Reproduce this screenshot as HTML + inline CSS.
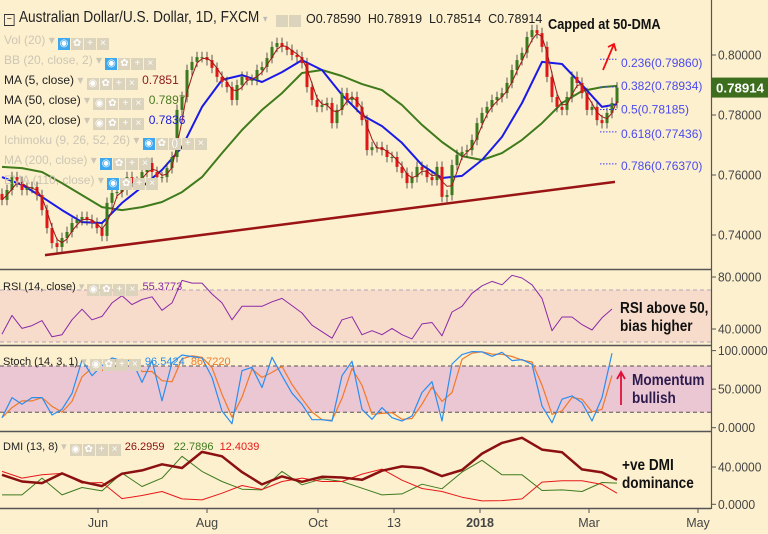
<!DOCTYPE html>
<html><head><meta charset="utf-8">
<style>
body{margin:0;background:#fdf0cf;}
#wrap{position:relative;width:768px;height:534px;overflow:hidden;background:#fdf0cf;font-family:"Liberation Sans",sans-serif;}
svg{position:absolute;left:0;top:0;}
.lg{position:absolute;left:4px;font-size:12px;white-space:nowrap;color:#222;height:14px;line-height:14px;}
.fd{color:#cdc6b4;}
.ic{display:inline-block;width:12px;height:12px;background:#dcd3bd;margin-right:1px;vertical-align:-2px;color:#fff;font-size:10px;text-align:center;line-height:12px;}
.ic.b{background:#3ea8ef;}
.sm{font-size:11px;}
.ann{position:absolute;font-weight:bold;font-size:15px;color:#111;transform-origin:0 0;transform:scaleX(0.85);line-height:18px;white-space:nowrap;}
</style></head><body>
<div id="wrap">
<svg id="svg" width="768" height="534"></svg>

<div class="lg" style="top:11px;font-size:15.5px;transform-origin:0 0;transform:scaleX(0.88);"><span style="display:inline-block;width:10px;height:10px;border:1px solid #333;margin-right:5px;vertical-align:0px;font-size:10px;line-height:9px;text-align:center">−</span>Australian Dollar/U.S. Dollar, 1D, FXCM <span style="color:#bbb;font-size:10px">▾</span></div>
<div class="lg" style="top:12px;left:306px;font-size:12.5px;">O0.78590&nbsp;&nbsp;H0.78919&nbsp;&nbsp;L0.78514&nbsp;&nbsp;C0.78914</div>
<div class="lg" style="top:14px;left:276px"><span class="ic"></span><span class="ic"></span></div>

<div class="lg fd" style="top:33px">Vol (20) ▾ <span class="ic b">◉</span><span class="ic">✿</span><span class="ic">+</span><span class="ic">×</span></div>
<div class="lg fd" style="top:53px">BB (20, close, 2) ▾ <span class="ic b">◉</span><span class="ic">✿</span><span class="ic">+</span><span class="ic">×</span></div>
<div class="lg" style="top:73px">MA (5, close) <span class="fd">▾</span> <span class="ic">◉</span><span class="ic">✿</span><span class="ic">+</span><span class="ic">×</span> <span style="color:#8b1a1a">0.7851</span></div>
<div class="lg" style="top:93px">MA (50, close) <span class="fd">▾</span> <span class="ic">◉</span><span class="ic">✿</span><span class="ic">+</span><span class="ic">×</span> <span style="color:#4a7a20">0.7897</span></div>
<div class="lg" style="top:113px">MA (20, close) <span class="fd">▾</span> <span class="ic">◉</span><span class="ic">✿</span><span class="ic">+</span><span class="ic">×</span> <span style="color:#1a1ae0">0.7836</span></div>
<div class="lg fd" style="top:133px">Ichimoku (9, 26, 52, 26) ▾ <span class="ic b">◉</span><span class="ic">✿</span><span class="ic">()</span><span class="ic">+</span><span class="ic">×</span></div>
<div class="lg fd" style="top:153px">MA (200, close) ▾ <span class="ic b">◉</span><span class="ic">✿</span><span class="ic">+</span><span class="ic">×</span></div>
<div class="lg fd" style="top:173px">EMA (110, close) ▾ <span class="ic b">◉</span><span class="ic">✿</span><span class="ic">+</span><span class="ic">×</span></div>

<div class="lg sm" style="top:280px;left:3px">RSI (14, close) <span class="fd">▾</span> <span class="ic">◉</span><span class="ic">✿</span><span class="ic">+</span><span class="ic">×</span> <span style="color:#8a2aa8">55.3773</span></div>
<div class="lg sm" style="top:355px;left:3px">Stoch (14, 3, 1) <span class="fd">▾</span> <span class="ic">◉</span><span class="ic">✿</span><span class="ic">+</span><span class="ic">×</span> <span style="color:#2a8ef0">96.5424</span> &nbsp;<span style="color:#f07a2a">86.7220</span></div>
<div class="lg sm" style="top:440px;left:3px">DMI (13, 8) <span class="fd">▾</span> <span class="ic">◉</span><span class="ic">✿</span><span class="ic">+</span><span class="ic">×</span> <span style="color:#8b1010">26.2959</span>&nbsp;&nbsp; <span style="color:#3e7a1e">22.7896</span>&nbsp; <span style="color:#e81818">12.4039</span></div>

<div class="ann" style="left:548px;top:16px;">Capped at 50-DMA</div>
<div class="ann" style="left:620px;top:300px;font-size:16px;">RSI above 50,<br>bias higher</div>
<div class="ann" style="left:632px;top:372px;font-size:16px;color:#2d1b4e">Momentum<br>bullish</div>
<div class="ann" style="left:622px;top:457px;font-size:16px;">+ve DMI<br>dominance</div>
</div>
<script>
const closes=[.7517,.7550,.7593,.7577,.7550,.7557,.7560,.7533,.7483,.7423,.7373,.7360,.7390,.7410,.7440,.7450,.7460,.7450,.7440,.7423,.7397,.7507,.7540,.7543,.7550,.7593,.7577,.7573,.7610,.7640,.7610,.7593,.7593,.7623,.7660,.7817,.7860,.7950,.7977,.7993,.7993,.7983,.7957,.7927,.7910,.7893,.7850,.7900,.7927,.7917,.7917,.7950,.7960,.7990,.8027,.8040,.8027,.8017,.8000,.7993,.7973,.7893,.7850,.7827,.7833,.7840,.7773,.7817,.7873,.7850,.7860,.7827,.7783,.7683,.7693,.7693,.7683,.7660,.7660,.7627,.7607,.7573,.7593,.7627,.7617,.7593,.7583,.7627,.7527,.7533,.7633,.7667,.7677,.7683,.7717,.7773,.7807,.7827,.7850,.7860,.7873,.7907,.7950,.7983,.8007,.8060,.8083,.8073,.8027,.7927,.7860,.7827,.7817,.7860,.7927,.7907,.7873,.7817,.7827,.7783,.7773,.7807,.7840,.78914];
const ma50=[.7627,.7623,.7610,.7573,.7533,.7493,.7483,.7493,.7510,.7543,.7593,.7673,.7750,.7817,.7873,.7940,.7950,.7930,.7903,.7883,.7833,.7767,.7710,.7663,.7650,.7673,.7717,.7773,.7840,.7880,.7893,.7897];
const ma20=[.7593,.7567,.7527,.7483,.7443,.7440,.7507,.7560,.7617,.7693,.7827,.7917,.7933,.7910,.7943,.7983,.7950,.7867,.7800,.7763,.7707,.7633,.7590,.7597,.7650,.7727,.7840,.7977,.7970,.7900,.7827,.7836];
const rsi=[36.1,50.5,40.5,42.6,46.5,34.0,35.6,47.1,55.2,47.1,49.7,60.1,65.6,58.8,62.7,64.8,54.4,60.1,77.4,75.3,75.3,66.9,60.1,47.1,57.5,57.5,57.5,60.9,63.5,58.0,52.3,42.9,37.9,32.9,47.1,49.4,35.6,38.7,35.6,40.5,35.6,32.4,43.9,45.0,34.8,53.1,57.5,67.5,73.2,76.6,74.0,81.3,79.2,74.0,63.5,38.7,49.2,49.2,43.4,39.2,48.6,55.4];
const stochK=[13.0,39.1,30.4,39.1,39.1,16.5,23.9,44.3,87.8,67.4,80.4,90.4,87.0,87.0,58.7,87.0,34.8,84.3,94.3,92.2,90.4,65.2,21.7,5.2,73.9,78.3,52.2,91.3,67.4,44.8,30.4,10.4,10.4,8.7,67.4,86.1,23.9,10.9,26.1,13.0,8.7,15.2,45.7,59.6,8.7,82.6,94.8,98.7,98.3,92.6,97.8,87.0,88.3,82.2,28.3,6.5,37.0,41.3,32.6,8.7,39.1,96.5];
const adx=[31.7,24.5,22.7,33.2,24.1,19.5,32.8,36.4,42.9,38.9,56.2,51.5,34.6,21.3,29.9,24.1,29.5,28.8,26.3,36.0,40.7,38.9,30.3,36.8,54.4,65.9,71.4,58.7,55.9,37.5,34.2,26.3];
const plusDI=[10.1,10.1,28.1,10.1,18.0,14.4,33.5,19.1,28.1,51.5,35.3,24.5,16.2,15.5,35.3,20.9,27.4,24.5,17.3,10.1,11.2,21.6,16.6,34.6,47.2,31.7,31.7,14.8,15.5,13.7,23.4,22.8];
const minusDI=[35.3,28.1,31.7,33.2,22.7,23.4,6.1,9.4,13.7,5.8,4.7,11.9,20.2,15.9,24.5,28.1,24.5,24.5,32.4,37.8,25.9,16.9,13.7,7.6,3.6,4.0,5.8,23.8,25.2,25.2,21.3,11.9];
const priceTicks=[0.80,0.78,0.76,0.74];
const rsiTicks=[80,40];
const stochTicks=[100,50,0];
const dmiTicks=[40,0];
const fibLevels=[0.79860,0.78934,0.78185,0.77436,0.76370];
const fibNames=["0.236","0.382","0.5","0.618","0.786"];
const timeLabels=["Jun","Aug","Oct","13","2018","Mar","May"];
const timeIdx=[19.2,41,63.2,78.4,95.6,117.4,139.2];
const trend=[[8.6,0.7333],[122.6,0.7577]];
const lastPrice=0.78914;

const NS="http://www.w3.org/2000/svg";
const svg=document.getElementById('svg');
function el(t,a,p){const e=document.createElementNS(NS,t);for(const k in a)e.setAttribute(k,a[k]);(p||svg).appendChild(e);return e;}
const xOf=i=>2+i*5;
const py=v=>55+(0.80-v)*3000;
const ry=v=>277+(80-v)*1.3;
const sy=v=>350.6+(100-v)*0.771;
const dy=v=>504.3-v*0.932;
function line(vals,step,yf,col,w,name){let d='';vals.forEach((v,k)=>{const i=Math.min(k*step,closes.length-1);d+=(k?'L':'M')+xOf(i).toFixed(1)+' '+yf(v).toFixed(1);});const p=el('path',{d:d,fill:'none',stroke:col,'stroke-width':w,'stroke-linejoin':'round'});return p;}

const rb=el('rect',{x:0,y:ry(70),width:711,height:ry(30)-ry(70),fill:'#f7dccb'});

const sb=el('rect',{x:0,y:sy(80),width:711,height:sy(20)-sy(80),fill:'#ebc7d3'});

[[ry(70),'#b9a4b8'],[ry(30),'#b9a4b8'],[sy(80),'#555'],[sy(20),'#555']].forEach(([y,c])=>{const l=el('line',{x1:0,x2:711,y1:y,y2:y,stroke:c,'stroke-dasharray':'4,3','stroke-width':1});});
[269.5,345.5,431.5,508.5].forEach(y=>{const l=el('line',{x1:0,x2:711,y1:y,y2:y,stroke:'#555','stroke-width':1.5});});
const ax=el('line',{x1:711.5,x2:711.5,y1:0,y2:509,stroke:'#555','stroke-width':1.2});


function tick(y,txt){const l=el('line',{x1:711,x2:716,y1:y,y2:y,stroke:'#555'});
const t=el('text',{x:718,y:y+4.5,'font-size':12.5,fill:'#444','font-family':'Liberation Sans, sans-serif',textLength:txt.length*6.2,lengthAdjust:'spacingAndGlyphs'});t.textContent=txt;}
priceTicks.forEach(v=>tick(py(v),v.toFixed(5)));
rsiTicks.forEach(v=>tick(ry(v),v.toFixed(4)));
stochTicks.forEach(v=>tick(sy(v),v.toFixed(4)));
dmiTicks.forEach(v=>tick(dy(v),v.toFixed(4)));

timeLabels.forEach((s,k)=>{const x=xOf(timeIdx[k]);const l=el('line',{x1:x,x2:x,y1:509,y2:513,stroke:'#555'});
const t=el('text',{x:x,y:527,'text-anchor':'middle','font-size':12.5,fill:'#444','font-weight':s==='2018'?'bold':'normal','font-family':'Liberation Sans, sans-serif'});t.textContent=s;});

const tl=el('line',{x1:xOf(trend[0][0]),y1:py(trend[0][1]),x2:xOf(trend[1][0]),y2:py(trend[1][1]),stroke:'#9a1414','stroke-width':2.5});


line(ma50,4,py,'#3f7a1c',2,'ma50-line');
line(ma20,4,py,'#1a1ae8',2,'ma20-line');

closes.forEach((c,i)=>{const o=i?closes[i-1]:c+0.002;const up=c>=o;const x=xOf(i);
const hi=Math.max(o,c)+0.0018,lo=Math.min(o,c)-0.0018;
const w=el('line',{x1:x,x2:x,y1:py(hi),y2:py(lo),stroke:'#333','stroke-width':0.8});

const top=py(Math.max(o,c)),h=Math.max(1,Math.abs(py(o)-py(c)));
const b=el('rect',{x:x-1.5,y:top,width:3,height:h,fill:up?'#3b7a1e':'#e01818'});
});
const ma5=closes.map((c,i)=>{const s=closes.slice(Math.max(0,i-2),i+1);return s.reduce((a,b)=>a+b,0)/s.length;});
line(ma5,1,py,'#a01818',1,'ma5-line');

fibLevels.forEach((v,k)=>{const y=py(v);const l=el('line',{x1:600,x2:617,y1:y,y2:y,stroke:'#3a3aff','stroke-dasharray':'1.5,1.5'});
const t=el('text',{x:621,y:y+(k===0?8:k===1?3:k===2?4:6),'font-size':12,fill:'#4a4af0','font-family':'Liberation Sans, sans-serif'});t.textContent=fibNames[k]+'('+v.toFixed(5)+')';});
const a1=el('path',{d:'M603 70 L614 44 M608 47 L614 44 L616 51',stroke:'#f01010','stroke-width':1.8,fill:'none'});

const a2=el('path',{d:'M621 405 L621 372 M617 379 L621 372 L625 379',stroke:'#e0103a','stroke-width':1.8,fill:'none'});


const pl=el('rect',{x:711,y:py(lastPrice)-10,width:57,height:20,fill:'#3d6e1e'});

const pt=el('text',{x:716,y:py(lastPrice)+5,'font-size':12.5,fill:'#fff','font-weight':'bold','font-family':'Liberation Sans, sans-serif',textLength:48,lengthAdjust:'spacingAndGlyphs'});pt.textContent=lastPrice.toFixed(5);


line(rsi,2,ry,'#8a2aa8',1,'rsi-line');
const stochD=stochK.map((v,i)=>{const s=stochK.slice(Math.max(0,i-1),i+1);return s.reduce((a,b)=>a+b,0)/s.length;});
line(stochD,2,sy,'#f07a2a',1.2,'stoch-d-line');
line(stochK,2,sy,'#2a8ef0',1.2,'stoch-k-line');
line(plusDI,4,dy,'#3e7a1e',1,'plus-di-line');
line(minusDI,4,dy,'#e81818',1,'minus-di-line');
line(adx,4,dy,'#8b1010',2.5,'adx-line');
</script>
</body></html>
